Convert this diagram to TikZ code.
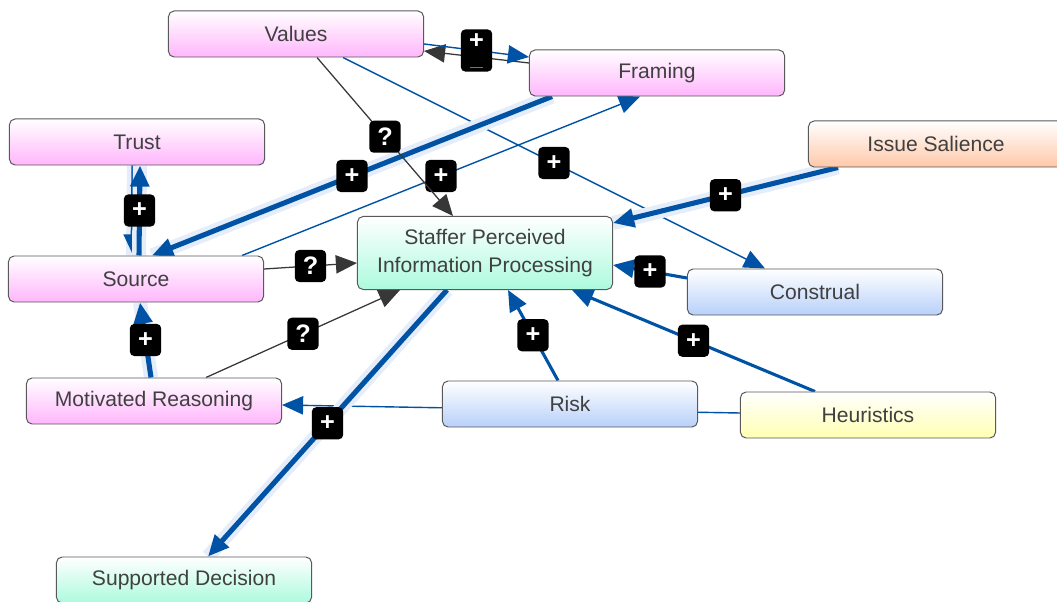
\documentclass[tikz,border=0pt]{standalone}
\usepackage{fontspec}
\setmainfont{Liberation Sans}
\usetikzlibrary{arrows.meta,calc,backgrounds}
\definecolor{linkblue}{RGB}{0,82,165}
\definecolor{linkgray}{RGB}{55,55,55}
\definecolor{haloblue}{RGB}{228,237,249}
\definecolor{pinkbot}{RGB}{255,182,252}
\definecolor{mintbot}{RGB}{172,250,222}
\definecolor{bluebot}{RGB}{184,208,250}
\definecolor{yellowbot}{RGB}{255,255,178}
\definecolor{orangebot}{RGB}{255,200,168}

\begin{document}
\begin{tikzpicture}[x=0.025cm, y=-0.025cm, >={Triangle[length=15pt,width=13pt]},
	concept/.style={draw=black!65, line width=0.7pt, rounded corners=4pt, minimum width=6.375cm, minimum height=1.15cm, align=center, text=black!75, font=\fontsize{15}{19.5}\selectfont},
	pinkbox/.style={concept, top color=white, bottom color=pinkbot},
	mintbox/.style={concept, top color=white, bottom color=mintbot},
	bluebox/.style={concept, top color=white, bottom color=bluebot},
	yellowbox/.style={concept, top color=white, bottom color=yellowbot},
	orangebox/.style={concept, top color=white, bottom color=orangebot},
	lbl/.style={fill=black, text=white, rounded corners=3pt, minimum width=0.78cm, minimum height=0.8cm, inner sep=0pt, align=center, font=\fontsize{18}{18}\selectfont\bfseries},
	weak/.style={->, draw=linkblue, line width=1pt},
	query/.style={->, draw=linkgray, line width=0.9pt},
	medium/.style={->, draw=linkblue, line width=2.2pt},
	strong/.style={->, draw=linkblue, line width=3.6pt, preaction={draw=haloblue, line width=10pt, arrows=-}}]
	\useasboundingbox (0,0) rectangle (1057,602);
	% concepts
	\node[pinkbox] (values) at (296,34) {Values};
	\node[pinkbox] (framing) at (657,73) {Framing};
	\node[pinkbox] (trust) at (137,142) {Trust};
	\node[pinkbox] (source) at (136,279) {Source};
	\node[pinkbox] (motivated) at (154,401) {Motivated Reasoning};
	\node[mintbox, minimum height=1.825cm] (staffer) at (485,253) {Staffer Perceived\\Information Processing};
	\node[orangebox] (salience) at (936,144) {Issue Salience};
	\node[bluebox] (construal) at (815,292) {Construal};
	\node[bluebox] (risk) at (570,404) {Risk};
	\node[yellowbox] (heuristics) at (868,415) {Heuristics};
	\node[mintbox] (decision) at (184,580) {Supported Decision};
	% links
	\begin{pgfonlayer}{background}
		\draw[weak] ($(heuristics.west)+(0,-2)$) -- ($(motivated.east)+(0,4)$);
		\draw[weak] ($(values.south)+(47,0)$) -- node[lbl] {+} ($(construal.north)+(-50,0)$);
		\draw[weak] ($(source.north)+(106,0)$) -- node[lbl] {+} ($(framing.south)+(-17,0)$);
		\draw[strong] ($(framing.south)+(-105,0)$) -- node[lbl] {+} ($(source.north)+(16,0)$);
		\draw[query] ($(framing.west)+(0,-10)$) -- ($(values.east)+(0,17)$);
		\draw[weak] ($(values.east)+(0,10)$) -- node[lbl, minimum height=1.05cm] {+\\[-4pt]\textcolor{black!55}{\rule{9pt}{0.7pt}}} ($(framing.west)+(0,-16)$);
		\draw[query] ($(values.south)+(21,0)$) -- node[lbl] {?} ($(staffer.north)+(-32,0)$);
		\draw[strong] ($(trust.south)+(-3,0)$) -- ($(source.north)+(-3,0)$);
		\draw[strong] ($(source.north)+(3,0)$) -- node[lbl] {+} ($(trust.south)+(3,0)$);
		\draw[strong] ($(motivated.north)+(-3,0)$) -- node[lbl] {+} ($(source.south)+(4,0)$);
		\draw[query] ($(source.east)+(0,-10)$) -- node[lbl] {?} ($(staffer.west)+(0,10)$);
		\draw[query] ($(motivated.north)+(52,0)$) -- node[lbl] {?} ($(staffer.south)+(-85,0)$);
		\draw[strong] ($(salience.south)+(-98,0)$) -- node[lbl] {+} ($(staffer.east)+(0,-30)$);
		\draw[medium] ($(construal.west)+(0,-14)$) -- node[lbl] {+} ($(staffer.east)+(0,12)$);
		\draw[medium] ($(risk.north)+(-12,0)$) -- node[lbl] {+} ($(staffer.south)+(23,0)$);
		\draw[medium] ($(heuristics.north)+(-53,0)$) -- node[lbl] {+} ($(staffer.south)+(87,0)$);
		\draw[strong] ($(staffer.south)+(-38,0)$) -- node[lbl] {+} ($(decision.north)+(24,0)$);
	\end{pgfonlayer}
\end{tikzpicture}
\end{document}
